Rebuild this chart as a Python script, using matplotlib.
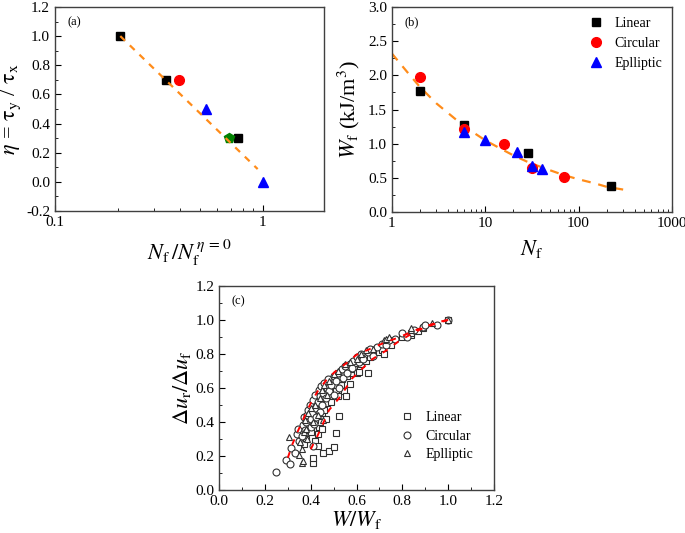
import numpy as np
import matplotlib
matplotlib.use('Agg')
import matplotlib.pyplot as plt
from matplotlib.ticker import FixedLocator, FixedFormatter, MultipleLocator, LogLocator, NullFormatter

plt.rcParams['font.family'] = ['Liberation Serif', 'DejaVu Serif']
plt.rcParams['mathtext.fontset'] = 'stix'

# ---- panel (a) data ----
a_lin_x = [0.206, 0.343, 0.757]
a_lin_y = [1.0, 0.7, 0.3]
a_cir_x = [0.393]
a_cir_y = [0.7]
a_ell_x = [0.534, 1.0]
a_ell_y = [0.5, 0.0]
a_grn_x = [0.685]
a_grn_y = [0.3]
a_fit_x = [0.206, 0.943]
a_fit_y = [1.0, 0.088]

# ---- panel (b) data ----
b_lin_x = [2, 6, 29, 222]
b_lin_y = [1.77, 1.28, 0.865, 0.384]
b_cir_x = [2, 6, 16, 32, 69]
b_cir_y = [1.97, 1.215, 0.99, 0.64, 0.51]
b_ell_x = [6, 10, 22, 32, 41]
b_ell_y = [1.17, 1.05, 0.875, 0.68, 0.627]
b_fit_x = [1, 1.5, 2, 3, 5, 7, 10, 15, 20, 30, 50, 70, 100, 150, 200, 300]
b_fit_y = [2.32, 2.03, 1.83, 1.59, 1.34, 1.19, 1.05, 0.92, 0.83, 0.72, 0.61, 0.54, 0.48, 0.42, 0.37, 0.33]

# ---- panel (c) data ----
c_lin = [(0.41, 0.16), (0.41, 0.19), (0.455, 0.22), (0.48, 0.23), (0.50, 0.25), (0.51, 0.335),
         (0.525, 0.435), (0.42, 0.29), (0.43, 0.33), (0.435, 0.37), (0.44, 0.40), (0.45, 0.45),
         (0.46, 0.47), (0.465, 0.42), (0.47, 0.51), (0.48, 0.55), (0.49, 0.52), (0.50, 0.57),
         (0.51, 0.59), (0.52, 0.55), (0.53, 0.62), (0.535, 0.65), (0.545, 0.58), (0.555, 0.55),
         (0.56, 0.67), (0.57, 0.625), (0.575, 0.69), (0.59, 0.71), (0.60, 0.69), (0.61, 0.695),
         (0.62, 0.74), (0.64, 0.76), (0.65, 0.685), (0.66, 0.78), (0.70, 0.81), (0.71, 0.82),
         (0.72, 0.80), (0.745, 0.865), (0.75, 0.85), (0.80, 0.90), (0.84, 0.91), (0.84, 0.92),
         (0.87, 0.935), (0.89, 0.95), (1.0, 1.0), (0.39, 0.38), (0.40, 0.34), (0.41, 0.44),
         (0.42, 0.41), (0.43, 0.47), (0.44, 0.52), (0.45, 0.36), (0.43, 0.26), (0.38, 0.30),
         (0.37, 0.27), (0.46, 0.55), (0.47, 0.58), (0.50, 0.62), (0.52, 0.65)]
c_cir = [(0.25, 0.105), (0.29, 0.175), (0.31, 0.15), (0.315, 0.245), (0.33, 0.215), (0.34, 0.33),
         (0.345, 0.36), (0.35, 0.29), (0.36, 0.32), (0.365, 0.38), (0.37, 0.43), (0.375, 0.35),
         (0.38, 0.40), (0.385, 0.44), (0.39, 0.47), (0.395, 0.50), (0.40, 0.42), (0.40, 0.37),
         (0.405, 0.45), (0.41, 0.53), (0.41, 0.26), (0.415, 0.39), (0.42, 0.56), (0.42, 0.48),
         (0.425, 0.43), (0.43, 0.52), (0.435, 0.59), (0.44, 0.55), (0.44, 0.46), (0.445, 0.61),
         (0.45, 0.50), (0.455, 0.57), (0.46, 0.63), (0.465, 0.54), (0.47, 0.60), (0.475, 0.65),
         (0.48, 0.58), (0.49, 0.62), (0.50, 0.67), (0.50, 0.56), (0.51, 0.64), (0.52, 0.69),
         (0.525, 0.60), (0.535, 0.71), (0.54, 0.66), (0.55, 0.73), (0.56, 0.69), (0.57, 0.74),
         (0.58, 0.72), (0.585, 0.76), (0.60, 0.78), (0.61, 0.75), (0.62, 0.80), (0.63, 0.77),
         (0.65, 0.81), (0.66, 0.83), (0.67, 0.79), (0.69, 0.84), (0.71, 0.86), (0.73, 0.85),
         (0.74, 0.88), (0.77, 0.89), (0.80, 0.92), (0.82, 0.90), (0.85, 0.94), (0.89, 0.96),
         (0.90, 0.97), (0.95, 0.97), (1.0, 1.0)]
c_ell = [(0.305, 0.31), (0.35, 0.205), (0.36, 0.16), (0.365, 0.17), (0.355, 0.28), (0.36, 0.24),
         (0.37, 0.34), (0.375, 0.41), (0.38, 0.36), (0.385, 0.30), (0.39, 0.45), (0.40, 0.48),
         (0.41, 0.40), (0.42, 0.50), (0.43, 0.44), (0.44, 0.54), (0.45, 0.59), (0.455, 0.41),
         (0.46, 0.62), (0.47, 0.56), (0.48, 0.64), (0.50, 0.68), (0.52, 0.70), (0.55, 0.74),
         (0.57, 0.75), (0.60, 0.77), (0.62, 0.80), (0.64, 0.82), (0.67, 0.83), (0.72, 0.88),
         (0.73, 0.89), (0.74, 0.90), (0.84, 0.94), (0.84, 0.95), (0.93, 0.98), (1.0, 1.0)]
c_fit_up_x = [0.30, 0.32, 0.345, 0.375, 0.40, 0.43, 0.47, 0.51, 0.56, 0.60, 0.66, 0.72, 0.79, 0.84, 0.89, 0.95, 1.0]
c_fit_up_y = [0.19, 0.27, 0.35, 0.44, 0.51, 0.58, 0.65, 0.70, 0.75, 0.795, 0.83, 0.865, 0.90, 0.93, 0.955, 0.985, 1.0]
c_fit_lo_x = [0.40, 0.43, 0.48, 0.53, 0.58, 0.63, 0.67, 0.73, 0.78, 0.83, 0.88, 0.94, 1.0]
c_fit_lo_y = [0.24, 0.32, 0.47, 0.55, 0.655, 0.72, 0.77, 0.82, 0.87, 0.91, 0.945, 0.975, 1.0]

spine_col = '#404040'


def style_axes(ax):
    for s in ax.spines.values():
        s.set_color(spine_col)
        s.set_linewidth(1.0)
    ax.tick_params(which='both', direction='in', top=False, right=False,
                   labelsize=11, colors='black')
    ax.tick_params(which='major', length=4)
    ax.tick_params(which='minor', length=2)


fig = plt.figure(figsize=(6.85, 5.33), dpi=100)

# ---------------- (a) ----------------
ax0 = fig.add_axes([0.0803, 0.604, 0.393, 0.383])
ax0.set_xscale('log')
ax0.plot(a_lin_x, a_lin_y, 's', color='black', ms=6)
ax0.plot(a_cir_x, a_cir_y, 'o', color='red', ms=7)
ax0.plot(a_ell_x, a_ell_y, '^', color='blue', ms=7)
ax0.plot(a_grn_x, a_grn_y, 'p', color='green', ms=7)
ax0.plot(a_fit_x, a_fit_y, '--', color='#ff8c1a', lw=1.6, dashes=(3, 3))
ax0.set_xlim(0.1, 1.97)
ax0.set_ylim(-0.2, 1.2)
ax0.xaxis.set_major_locator(FixedLocator([0.1, 1]))
ax0.xaxis.set_major_formatter(FixedFormatter(['0.1', '1']))
ax0.xaxis.set_minor_locator(LogLocator(base=10, subs=np.arange(2, 10)))
ax0.xaxis.set_minor_formatter(NullFormatter())
ax0.yaxis.set_major_locator(MultipleLocator(0.2))
ax0.yaxis.set_minor_locator(MultipleLocator(0.1))
ax0.yaxis.set_major_formatter(plt.FuncFormatter(lambda v, p: '%.1f' % v))
style_axes(ax0)
ax0.set_ylabel(r'$\eta$ = $\mathrm{\tau_y}$ / $\mathrm{\tau_x}$', fontsize=16, labelpad=2)
ax0.set_xlabel(r'$N_{\mathrm{f}}\,/N_{\mathrm{f}}^{\,\eta\,=\,0}$', fontsize=16, labelpad=6)
ax0.text(0.045, 0.955, '(a)', transform=ax0.transAxes, fontsize=9, va='top')

# ---------------- (b) ----------------
ax1 = fig.add_axes([0.572, 0.602, 0.409, 0.385])
ax1.set_xscale('log')
ax1.plot(b_fit_x, b_fit_y, '--', color='#ff8c1a', lw=1.6, dashes=(4, 3.5))
ax1.plot(b_lin_x, b_lin_y, 's', color='black', ms=6, label='Linear')
ax1.plot(b_cir_x, b_cir_y, 'o', color='red', ms=7, label='Circular')
ax1.plot(b_ell_x, b_ell_y, '^', color='blue', ms=7, label='Eplliptic')
ax1.set_xlim(1, 1000)
ax1.set_ylim(0, 3.0)
ax1.xaxis.set_major_locator(FixedLocator([1, 10, 100, 1000]))
ax1.xaxis.set_major_formatter(FixedFormatter(['1', '10', '100', '1000']))
ax1.xaxis.set_minor_locator(LogLocator(base=10, subs=np.arange(2, 10)))
ax1.xaxis.set_minor_formatter(NullFormatter())
ax1.yaxis.set_major_locator(MultipleLocator(0.5))
ax1.yaxis.set_minor_locator(MultipleLocator(0.25))
ax1.yaxis.set_major_formatter(plt.FuncFormatter(lambda v, p: '%.1f' % v))
style_axes(ax1)
ax1.set_ylabel(r'$W_{\mathrm{f}}$ (kJ/m$^3$)', fontsize=16, labelpad=4)
ax1.set_xlabel(r'$N_{\mathrm{f}}$', fontsize=16, labelpad=6)
ax1.text(0.045, 0.955, '(b)', transform=ax1.transAxes, fontsize=9, va='top')
ax1.legend(loc='upper right', frameon=False, fontsize=10, handletextpad=0.6,
           borderaxespad=0.3, labelspacing=0.5, handlelength=1.5)

# ---------------- (c) ----------------
ax2 = fig.add_axes([0.320, 0.0807, 0.401, 0.383])
mk = dict(ls='none', mfc='white', mec='#303030', mew=0.8, ms=5)
ax2.plot([p[0] for p in c_lin], [p[1] for p in c_lin], marker='s', label='Linear', **mk)
ax2.plot([p[0] for p in c_cir], [p[1] for p in c_cir], marker='o', label='Circular', **mk)
ax2.plot([p[0] for p in c_ell], [p[1] for p in c_ell], marker='^', label='Eplliptic', **mk)
ax2.plot(c_fit_up_x, c_fit_up_y, '--', color='red', lw=1.4, dashes=(3, 4))
ax2.plot(c_fit_lo_x, c_fit_lo_y, '--', color='red', lw=1.4, dashes=(3, 4))
ax2.set_xlim(0, 1.2)
ax2.set_ylim(0, 1.2)
ax2.xaxis.set_major_locator(MultipleLocator(0.2))
ax2.xaxis.set_minor_locator(MultipleLocator(0.1))
ax2.yaxis.set_major_locator(MultipleLocator(0.2))
ax2.yaxis.set_minor_locator(MultipleLocator(0.1))
ax2.xaxis.set_major_formatter(plt.FuncFormatter(lambda v, p: '%.1f' % v))
ax2.yaxis.set_major_formatter(plt.FuncFormatter(lambda v, p: '%.1f' % v))
style_axes(ax2)
ax2.set_ylabel(r'$\Delta u_{\mathrm{r}}/\Delta u_{\mathrm{f}}$', fontsize=16, labelpad=2)
ax2.set_xlabel(r'$W/W_{\mathrm{f}}$', fontsize=16, labelpad=1)
ax2.text(0.045, 0.955, '(c)', transform=ax2.transAxes, fontsize=9, va='top')
ax2.legend(loc='lower right', bbox_to_anchor=(0.97, 0.08), frameon=False, fontsize=10,
           handletextpad=0.6, labelspacing=0.4, handlelength=1.5)

plt.savefig('out.png', dpi=100)
plt.close()
